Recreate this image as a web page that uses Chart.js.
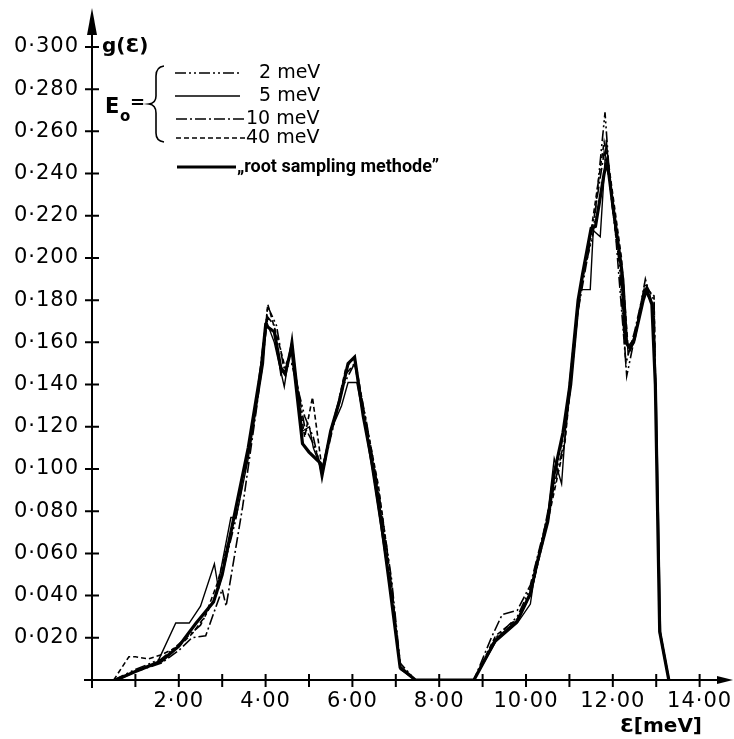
<!DOCTYPE html>
<html>
<head>
<meta charset="utf-8">
<script src="https://cdn.jsdelivr.net/npm/chart.js@4.4.0/dist/chart.umd.min.js"></script>
<style>
  html, body { margin: 0; padding: 0; background: #fff; }
  #wrap { width: 734px; height: 739px; }
</style>
</head>
<body>
<div id="wrap"><canvas id="dos-chart" width="734" height="739"></canvas></div>
<script>
// g(E), energies in meV
const rootX = [0.55, 1.0, 1.6, 2.0, 2.4, 2.8, 3.0, 3.3, 3.6, 3.9, 4.0, 4.2, 4.35, 4.45, 4.6, 4.85, 5.0, 5.25, 5.3, 5.5,
  5.7, 5.9, 6.05, 6.25, 6.5, 6.65, 6.85, 7.1, 7.45, 8.8, 9.3, 9.8, 10.1, 10.25, 10.5, 10.65, 10.85, 11.0, 11.2, 11.3,
  11.5, 11.6, 11.8, 11.87, 12.0, 12.2, 12.3, 12.4, 12.5, 12.7, 12.78, 12.9, 12.98, 13.08, 13.29];
const rootY = [0, 0.004, 0.009, 0.016, 0.027, 0.037, 0.050, 0.080, 0.110, 0.148, 0.168, 0.165, 0.148, 0.145, 0.158, 0.112, 0.108, 0.103, 0.097, 0.118,
  0.132, 0.150, 0.153, 0.125, 0.098, 0.077, 0.046, 0.006, 0, 0, 0.019, 0.028, 0.041, 0.055, 0.075, 0.098, 0.117, 0.138, 0.180, 0.192,
  0.214, 0.215, 0.240, 0.246, 0.225, 0.195, 0.160, 0.157, 0.162, 0.180, 0.185, 0.178, 0.140, 0.023, 0];

const e2X = [0.5, 1.0, 1.6, 2.0, 2.5, 2.9, 3.3, 3.7, 4.05, 4.25, 4.4, 4.6, 4.9, 5.1, 5.3, 5.5, 5.8, 6.05, 6.3, 6.6,
  6.9, 7.1, 7.45, 8.8, 9.3, 9.8, 10.2, 10.6, 10.9, 11.1, 11.3, 11.55, 11.82, 11.95, 12.15, 12.32, 12.5, 12.75, 12.95, 13.08, 13.29];
const e2Y = [0, 0.005, 0.010, 0.017, 0.026, 0.042, 0.075, 0.118, 0.177, 0.168, 0.150, 0.150, 0.125, 0.115, 0.097, 0.115, 0.140, 0.150, 0.125, 0.090,
  0.048, 0.008, 0, 0, 0.020, 0.030, 0.048, 0.090, 0.120, 0.160, 0.190, 0.212, 0.269, 0.231, 0.197, 0.144, 0.162, 0.190, 0.175, 0.024, 0];

const e5X = [0.6, 1.0, 1.5, 1.93, 2.24, 2.5, 2.82, 2.9, 3.2, 3.32, 3.6, 3.95, 4.02, 4.2, 4.43, 4.61, 4.85, 5.01, 5.1, 5.3,
  5.5, 5.75, 5.9, 6.1, 6.3, 6.6, 6.9, 7.1, 7.45, 8.8, 9.3, 9.8, 10.1, 10.2, 10.5, 10.65, 10.82, 10.92, 11.05, 11.25,
  11.48, 11.55, 11.71, 11.85, 12.0, 12.25, 12.35, 12.5, 12.72, 12.92, 13.0, 13.1, 13.3];
const e5Y = [0, 0.004, 0.008, 0.027, 0.027, 0.035, 0.055, 0.045, 0.077, 0.077, 0.105, 0.150, 0.170, 0.160, 0.139, 0.163, 0.118, 0.120, 0.110, 0.099,
  0.118, 0.130, 0.141, 0.141, 0.120, 0.080, 0.040, 0.005, 0, 0, 0.018, 0.027, 0.036, 0.050, 0.078, 0.105, 0.093, 0.122, 0.140, 0.185,
  0.185, 0.213, 0.210, 0.256, 0.222, 0.190, 0.155, 0.160, 0.185, 0.178, 0.135, 0.022, 0];

const e10X = [0.55, 1.0, 1.6, 2.0, 2.3, 2.62, 3.0, 3.09, 3.47, 3.8, 4.05, 4.2, 4.35, 4.6, 4.9, 5.1, 5.3, 5.55, 5.85, 6.05,
  6.3, 6.6, 6.9, 7.1, 7.45, 8.8, 9.2, 9.45, 9.8, 10.1, 10.5, 10.9, 11.2, 11.5, 11.8, 12.0, 12.3, 12.5, 12.75, 12.95, 13.08, 13.29];
const e10Y = [0, 0.004, 0.008, 0.014, 0.020, 0.021, 0.043, 0.035, 0.082, 0.130, 0.172, 0.168, 0.145, 0.155, 0.120, 0.112, 0.100, 0.122, 0.145, 0.150,
  0.122, 0.088, 0.045, 0.006, 0, 0, 0.020, 0.031, 0.033, 0.045, 0.078, 0.115, 0.175, 0.210, 0.250, 0.228, 0.150, 0.165, 0.188, 0.180, 0.022, 0];

const e40X = [0.5, 0.85, 1.0, 1.3, 1.6, 2.0, 2.31, 2.6, 2.89, 3.2, 3.6, 3.9, 4.05, 4.3, 4.45, 4.65, 4.9, 5.08, 5.3, 5.55,
  5.85, 6.05, 6.3, 6.6, 6.9, 7.1, 7.45, 8.8, 9.3, 9.8, 10.1, 10.5, 10.9, 11.2, 11.5, 11.8, 11.9, 12.2, 12.35, 12.5,
  12.75, 12.95, 13.08, 13.29];
const e40Y = [0, 0.011, 0.011, 0.010, 0.012, 0.016, 0.022, 0.030, 0.046, 0.070, 0.108, 0.145, 0.178, 0.160, 0.148, 0.150, 0.115, 0.134, 0.100, 0.120,
  0.148, 0.153, 0.124, 0.092, 0.046, 0.006, 0, 0, 0.021, 0.029, 0.040, 0.075, 0.113, 0.178, 0.213, 0.255, 0.245, 0.200, 0.158, 0.162,
  0.186, 0.182, 0.023, 0];

const xTicks = [0, 1, 2, 3, 4, 5, 6, 7, 8, 9, 10, 11, 12, 13, 14];
const yTicks = [0, 0.02, 0.04, 0.06, 0.08, 0.10, 0.12, 0.14, 0.16, 0.18, 0.20, 0.22, 0.24, 0.26, 0.28, 0.30];
const seriesNames = ['2 meV', '5 meV', '10 meV', '40 meV', '\u201Eroot sampling methode\u201D'];

const FONT = '"DejaVu Sans", sans-serif';

function toPoints(xs, ys) {
  return xs.map(function (x, i) { return {x: x, y: ys[i]}; });
}

function line(label, xs, ys, width, dash) {
  return {
    label: label,
    data: toPoints(xs, ys),
    borderColor: '#000',
    borderWidth: width,
    borderDash: dash,
    pointRadius: 0,
    tension: 0,
    fill: false
  };
}

// no extra room for half tick labels, the plot area is fixed
function noLabelPadding(scale) {
  scale.paddingTop = 0;
  scale.paddingBottom = 0;
  scale.paddingLeft = 0;
  scale.paddingRight = 0;
}

// wider letters on the tick labels, like the plotter lettering
const spacedLabels = {
  id: 'spacedLabels',
  beforeDraw(chart) {
    chart.ctx.letterSpacing = '1px';
  }
};

// axes with crossing tick marks and arrow heads, drawn like the plotter did
const plotterAxes = {
  id: 'plotterAxes',
  afterDatasetsDraw(chart) {
    const ctx = chart.ctx;
    const xs = chart.scales.x;
    const ys = chart.scales.y;
    const x0 = xs.getPixelForValue(0);
    const y0 = ys.getPixelForValue(0);
    const right = chart.width - 1;

    ctx.save();
    ctx.letterSpacing = '0px';
    ctx.strokeStyle = '#000';
    ctx.fillStyle = '#000';
    ctx.lineWidth = 2;
    ctx.lineCap = 'butt';

    ctx.beginPath();
    ctx.moveTo(x0 - 8, y0);
    ctx.lineTo(right - 10, y0);
    ctx.moveTo(x0, y0 + 8);
    ctx.lineTo(x0, 30);
    ctx.stroke();

    ctx.beginPath();
    xTicks.forEach(function (v) {
      const px = xs.getPixelForValue(v);
      ctx.moveTo(px, y0 - 6);
      ctx.lineTo(px, y0 + 7);
    });
    yTicks.forEach(function (v) {
      const py = ys.getPixelForValue(v);
      ctx.moveTo(x0 - 7, py);
      ctx.lineTo(x0 + 7, py);
    });
    ctx.stroke();

    // arrow heads
    ctx.beginPath();
    ctx.moveTo(x0, 8);
    ctx.lineTo(x0 - 5, 35);
    ctx.lineTo(x0 + 5, 35);
    ctx.closePath();
    ctx.fill();
    ctx.beginPath();
    ctx.moveTo(right, y0);
    ctx.lineTo(right - 16, y0 - 4);
    ctx.lineTo(right - 16, y0 + 4);
    ctx.closePath();
    ctx.fill();

    // axis titles
    ctx.textBaseline = 'middle';
    ctx.font = 'bold 20px ' + FONT;
    ctx.textAlign = 'left';
    ctx.fillText('g(\u0190)', 102, 47);
    ctx.textAlign = 'right';
    ctx.fillText('\u0190[meV]', 702, 727);

    // E0 = with brace
    ctx.textAlign = 'left';
    ctx.font = 'bold 21px ' + FONT;
    ctx.fillText('E', 105, 108);
    ctx.font = 'bold 15px ' + FONT;
    ctx.fillText('o', 120, 117);
    ctx.font = 'bold 18px ' + FONT;
    ctx.fillText('=', 130, 103);

    ctx.lineWidth = 1.6;
    ctx.beginPath();
    ctx.moveTo(164, 66);
    ctx.quadraticCurveTo(156, 67, 156, 76);
    ctx.lineTo(156, 96);
    ctx.quadraticCurveTo(156, 103, 149, 104);
    ctx.quadraticCurveTo(156, 105, 156, 113);
    ctx.lineTo(156, 133);
    ctx.quadraticCurveTo(156, 141, 164, 142);
    ctx.stroke();

    // legend entries, styled from the datasets themselves
    const rows = [
      {y: 73, x1: 175, x2: 240, tx: 259},
      {y: 96, x1: 175, x2: 240, tx: 259},
      {y: 119, x1: 176, x2: 244, tx: 246},
      {y: 138, x1: 176, x2: 245, tx: 246},
      {y: 167, x1: 177, x2: 236, tx: 237}
    ];
    rows.forEach(function (r, i) {
      const ds = chart.data.datasets.find(function (d) { return d.label === seriesNames[i]; });
      ctx.lineWidth = ds.borderWidth;
      ctx.setLineDash(ds.borderDash || []);
      ctx.beginPath();
      ctx.moveTo(r.x1, r.y);
      ctx.lineTo(r.x2, r.y);
      ctx.stroke();
      ctx.setLineDash([]);
      ctx.font = i === 4 ? 'bold 18px Roboto, sans-serif' : '19px ' + FONT;
      ctx.fillText(seriesNames[i], r.tx, r.y);
    });
    ctx.restore();
  }
};

const ctx = document.getElementById('dos-chart');
const chart = new Chart(ctx, {
  type: 'line',
  data: {
    datasets: [
      line(seriesNames[4], rootX, rootY, 3.2, []),
      line(seriesNames[1], e5X, e5Y, 1.4, []),
      line(seriesNames[0], e2X, e2Y, 1.6, [11, 3, 2, 3, 2, 3]),
      line(seriesNames[2], e10X, e10Y, 1.6, [11, 3, 2, 3]),
      line(seriesNames[3], e40X, e40Y, 1.6, [5, 3])
    ]
  },
  options: {
    responsive: false,
    animation: false,
    layout: {padding: {top: 10, right: 4, left: 0, bottom: 0}},
    scales: {
      x: {
        type: 'linear',
        min: 0,
        max: 14.7,
        afterBuildTicks: function (scale) {
          scale.ticks = xTicks.map(function (v) { return {value: v}; });
        },
        afterFit: function (scale) {
          scale.height = 59;
          noLabelPadding(scale);
        },
        grid: {display: false, drawTicks: false},
        border: {display: false},
        ticks: {
          autoSkip: false,
          maxRotation: 0,
          padding: 9,
          color: '#000',
          font: {family: FONT, size: 21},
          callback: function (v) {
            return (v > 0 && v % 2 === 0) ? v + '\u00B700' : '';
          }
        }
      },
      y: {
        min: 0,
        max: 0.3175,
        afterBuildTicks: function (scale) {
          scale.ticks = yTicks.map(function (v) { return {value: v}; });
        },
        afterFit: function (scale) {
          scale.width = 92;
          noLabelPadding(scale);
        },
        grid: {display: false, drawTicks: false},
        border: {display: false},
        ticks: {
          autoSkip: false,
          padding: 13,
          color: '#000',
          font: {family: FONT, size: 21},
          callback: function (v) {
            if (v === 0) {
              return '';
            }
            return '0\u00B7' + String(Math.round(v * 1000)).padStart(3, '0');
          }
        }
      }
    },
    plugins: {
      legend: {display: false},
      tooltip: {enabled: false}
    }
  },
  plugins: [spacedLabels, plotterAxes]
});
</script>
</body>
</html>
